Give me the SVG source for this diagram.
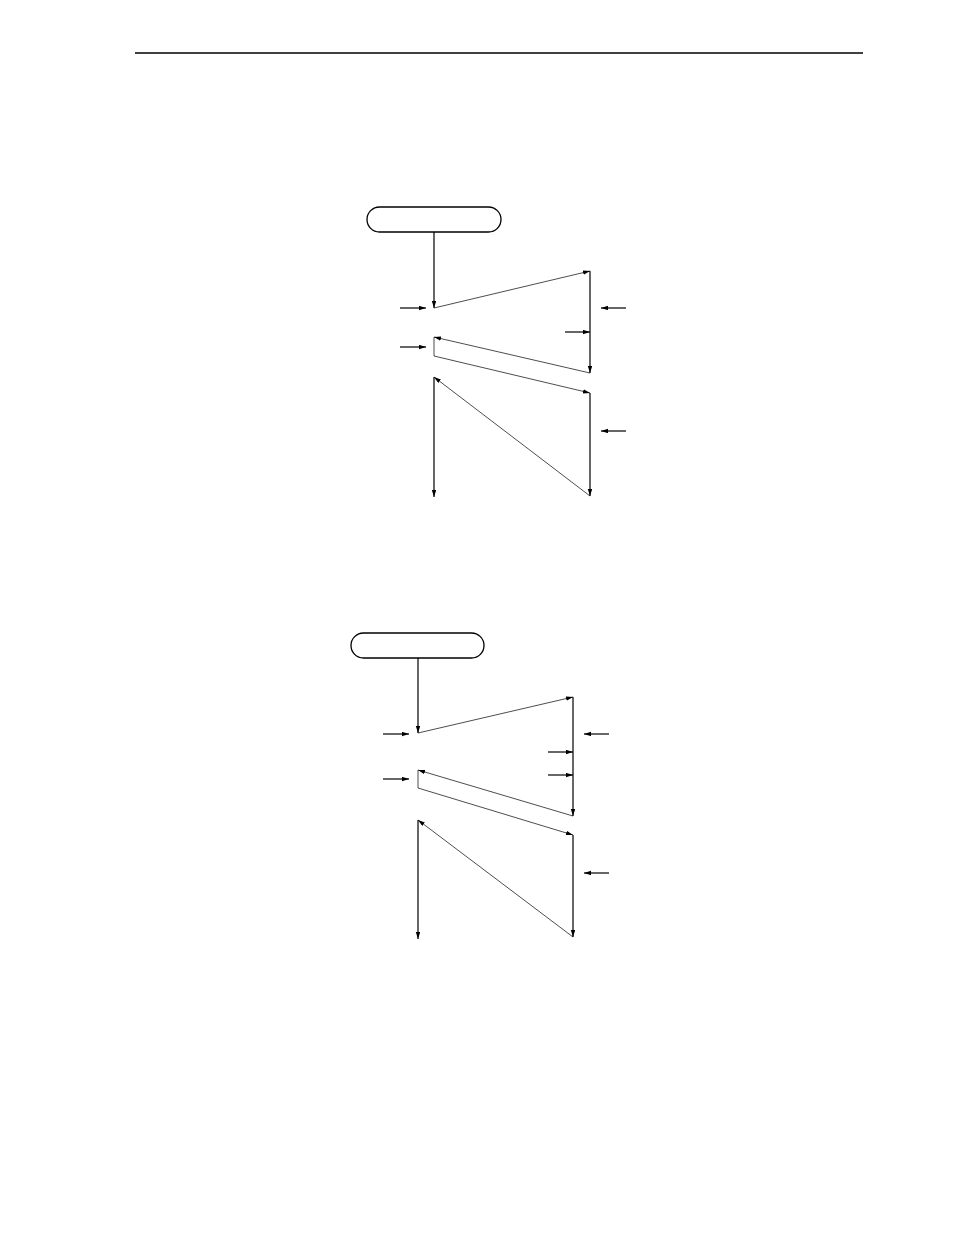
<svg xmlns="http://www.w3.org/2000/svg" width="954" height="1235" viewBox="0 0 954 1235">
<style>
.bg{fill:#fff}
.term{fill:#fff;stroke:#000;stroke-width:1.3}
.v{fill:none;stroke:#000;stroke-width:1.2;marker-end:url(#ah)}
.vn{fill:none;stroke:#000;stroke-width:1.2}
.d{fill:none;stroke:#000;stroke-width:0.7;marker-end:url(#ah)}
.dn{fill:none;stroke:#000;stroke-width:0.7}
.hdr{stroke:#000;stroke-width:1.3}
</style>
<defs>
<marker id="ah" markerUnits="userSpaceOnUse" markerWidth="8" markerHeight="6" refX="7" refY="2.2" orient="auto">
<path d="M0,0 L7,2.2 L0,4.4 Z" fill="#000"/>
</marker>
</defs>
<rect class="bg" x="0" y="0" width="954" height="1235"/>
<line class="hdr" x1="135" y1="53" x2="863" y2="53"/>

<g id="chart1">
<g id="start1"><rect class="term" x="367" y="207" width="134" height="25" rx="12.5"/></g>
<g id="connectors1">
<path class="v" d="M434,232 V308"/>
<path class="d" d="M434,308 L590,271"/>
<path class="v" d="M590,271 V373"/>
<path class="d" d="M590,373 L434,337"/>
<path class="dn" d="M434,337 V356"/>
<path class="d" d="M434,356 L590,393"/>
<path class="v" d="M590,393 V496"/>
<path class="d" d="M590,496 L434,377"/>
<path class="v" d="M434,377 V497"/>
<path class="v" d="M400,308 H426"/>
<path class="v" d="M400,347 H426"/>
<path class="v" d="M626,308 H601"/>
<path class="v" d="M565,332 H590"/>
<path class="v" d="M626,431 H601"/>
</g>
</g>

<g id="chart2">
<g id="start2"><rect class="term" x="351" y="633" width="133" height="25" rx="12.5"/></g>
<g id="connectors2">
<path class="v" d="M418,658 V733"/>
<path class="d" d="M418,733 L573,697"/>
<path class="v" d="M573,697 V816"/>
<path class="d" d="M573,816 L418,770"/>
<path class="dn" d="M418,770 V788"/>
<path class="d" d="M418,788 L573,835"/>
<path class="v" d="M573,835 V937"/>
<path class="d" d="M573,937 L418,820"/>
<path class="v" d="M418,820 V939"/>
<path class="v" d="M383,734 H409"/>
<path class="v" d="M383,779 H409"/>
<path class="v" d="M609,734 H584"/>
<path class="v" d="M548,752 H573"/>
<path class="v" d="M548,775 H573"/>
<path class="v" d="M609,873 H584"/>
</g>
</g>
</svg>
